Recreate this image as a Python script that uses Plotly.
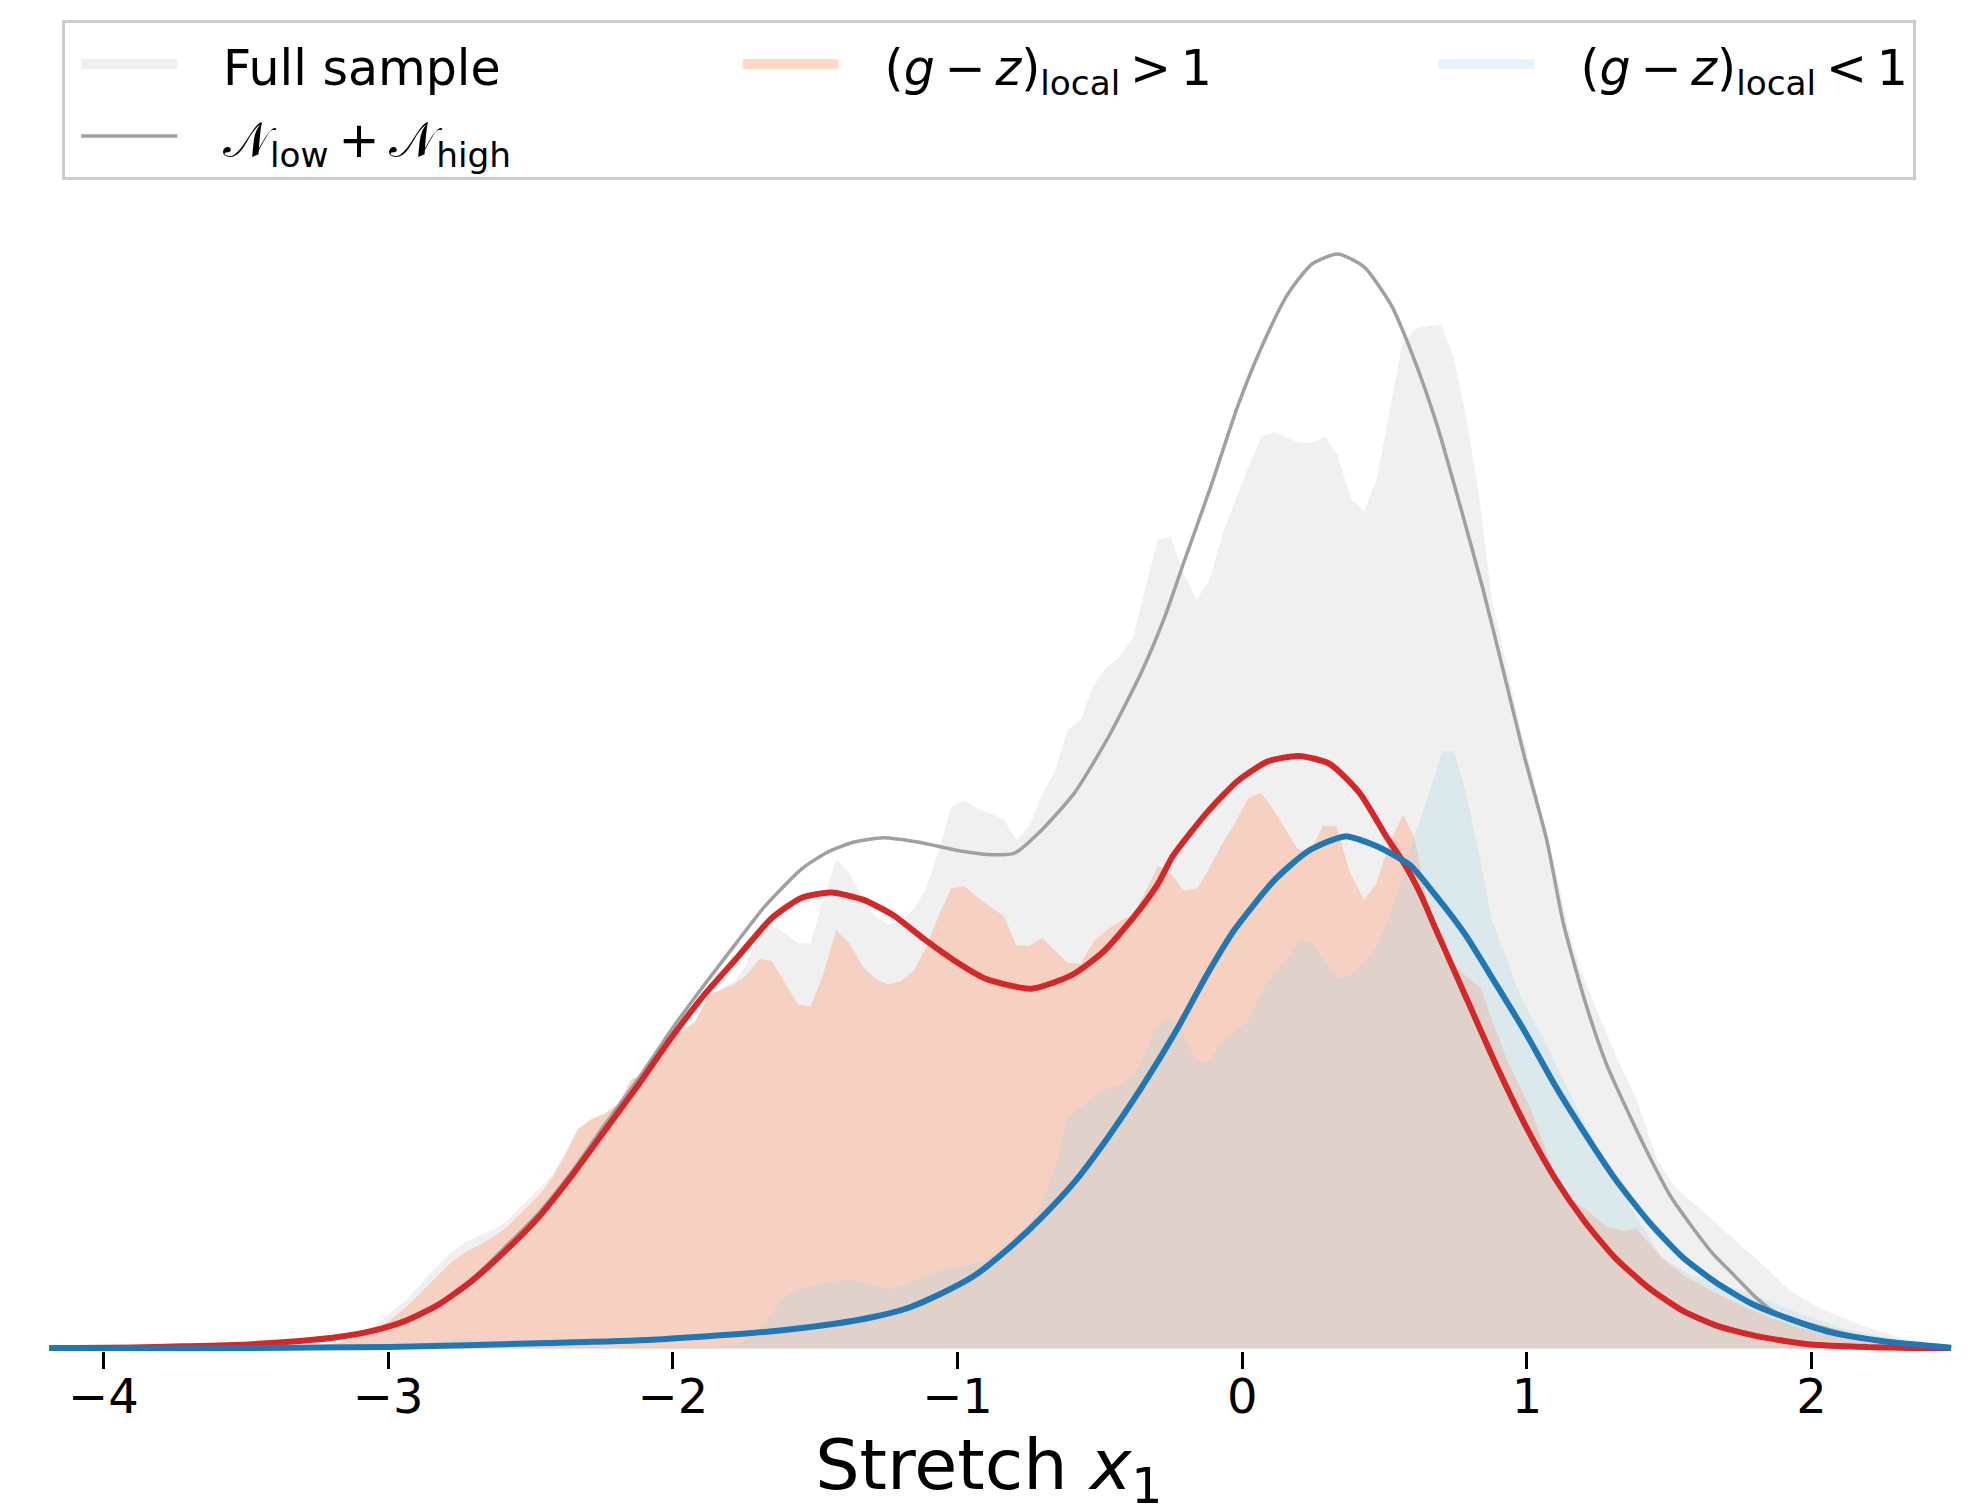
import plotly.graph_objects as go

# ---------------- data ----------------
# Filled distributions (histogram-like outlines)
full_x = [-3.30, -3.16, -3.06, -2.930, -2.860, -2.778, -2.731, -2.684, -2.626, -2.579, -2.520, -2.462,
          -2.421, -2.380, -2.333, -2.286, -2.239, -2.192, -2.146, -2.099, -2.052, -2.005, -1.970, -1.923,
          -1.876, -1.830, -1.783, -1.747, -1.701, -1.654, -1.619, -1.560, -1.516, -1.472, -1.426, -1.379,
          -1.332, -1.291, -1.244, -1.197, -1.154, -1.110, -1.063, -1.022, -0.975, -0.928, -0.881, -0.837,
          -0.793, -0.747, -0.702, -0.657, -0.612, -0.567, -0.524, -0.477, -0.430, -0.384, -0.341, -0.296,
          -0.252, -0.204, -0.160, -0.114, -0.067, 0.021, 0.067, 0.112, 0.157, 0.202, 0.246, 0.292, 0.336,
          0.382, 0.428, 0.473, 0.562, 0.609, 0.656, 0.698, 0.743, 0.788, 0.831, 0.878, 0.925, 0.970, 1.020,
          1.070, 1.114, 1.150, 1.189, 1.219, 1.324, 1.384, 1.458, 1.518, 1.608, 1.728, 1.817, 1.922, 2.027,
          2.177, 2.326, 2.490]
full_y = [0.0, 0.003, 0.0100, 0.0253, 0.0369, 0.0486, 0.0536, 0.0569, 0.0603, 0.0653, 0.0736, 0.0819,
          0.0886, 0.0986, 0.111, 0.116, 0.1186, 0.1236, 0.136, 0.140, 0.1478, 0.157, 0.161, 0.165,
          0.177, 0.182, 0.186, 0.193, 0.2086, 0.2136, 0.2115, 0.2048, 0.205, 0.227, 0.247, 0.2405,
          0.228, 0.219, 0.2144, 0.2163, 0.222, 0.2328, 0.253, 0.274, 0.277, 0.2729, 0.2703, 0.2675,
          0.2569, 0.2645, 0.280, 0.2924, 0.313, 0.318, 0.3348, 0.3444, 0.3498, 0.3589, 0.3839, 0.409,
          0.4105, 0.3917, 0.3788, 0.389, 0.4129, 0.4453, 0.4611, 0.4634, 0.4605, 0.458, 0.458, 0.461, 0.4515,
          0.4296, 0.4236, 0.4397, 0.5078, 0.516, 0.517, 0.518, 0.501, 0.470, 0.432, 0.378, 0.348, 0.318, 0.290,
          0.260, 0.2337, 0.210, 0.191, 0.180, 0.1444, 0.1265, 0.0953, 0.0819, 0.0707, 0.055, 0.0439, 0.0294, 0.0205,
          0.0115, 0.0049, 0.0005]

red_x = [-3.30, -3.16, -3.059, -3.000, -2.930, -2.860, -2.778, -2.731, -2.673, -2.626, -2.579, -2.520,
         -2.462, -2.421, -2.380, -2.333, -2.286, -2.239, -2.192, -2.146, -2.099, -2.052, -2.005, -1.970,
         -1.923, -1.873, -1.834, -1.789, -1.742, -1.695, -1.654, -1.619, -1.560, -1.516, -1.472, -1.426,
         -1.379, -1.332, -1.291, -1.244, -1.197, -1.154, -1.110, -1.063, -1.022, -0.975, -0.928, -0.881,
         -0.837, -0.794, -0.747, -0.702, -0.657, -0.612, -0.567, -0.522, -0.477, -0.430, -0.384, -0.340,
         -0.296, -0.249, -0.205, -0.158, -0.117, -0.073, -0.026, 0.020, 0.065, 0.108, 0.149, 0.194, 0.237,
         0.284, 0.331, 0.378, 0.428, 0.471, 0.518, 0.565, 0.606, 0.660, 0.700, 0.740, 0.790, 0.838, 0.875,
         0.935, 1.010, 1.069, 1.114, 1.160, 1.204, 1.279, 1.339, 1.384, 1.473, 1.550, 1.650, 1.750, 1.850,
         1.950, 2.050, 2.200, 2.350, 2.450]
red_y = [0.0, 0.0036, 0.0086, 0.0136, 0.0219, 0.0319, 0.0436, 0.0486, 0.0528, 0.0569, 0.0619, 0.0703,
         0.0786, 0.0869, 0.097, 0.111, 0.116, 0.119, 0.1236, 0.136, 0.139, 0.1478, 0.157, 0.160,
         0.165, 0.1795, 0.181, 0.184, 0.1886, 0.197, 0.196, 0.188, 0.174, 0.173, 0.189, 0.2115,
         0.2048, 0.193, 0.1874, 0.184, 0.186, 0.191, 0.203, 0.220, 0.2328, 0.2337, 0.228, 0.223,
         0.2187, 0.204, 0.2036, 0.2077, 0.201, 0.195, 0.1947, 0.206, 0.2115, 0.216, 0.2195, 0.231,
         0.2442, 0.240, 0.2315, 0.2326, 0.2426, 0.2545, 0.2656, 0.278, 0.2812, 0.2729, 0.2634, 0.2527, 0.2503,
         0.2645, 0.264, 0.2408, 0.227, 0.2349, 0.2562, 0.270, 0.258, 0.218, 0.200, 0.1934, 0.188, 0.1823, 0.1667,
         0.1444, 0.122, 0.0997, 0.0808, 0.075, 0.0707, 0.0618, 0.0595, 0.0607, 0.046, 0.037, 0.029, 0.022, 0.016,
         0.011, 0.007, 0.003, 0.001, 0.0]

blue_x = [-3.00, -2.918, -2.818, -2.757, -2.697, -2.636, -2.475, -2.273, -2.072, -1.870, -1.769, -1.709,
          -1.666, -1.613, -1.560, -1.514, -1.467, -1.420, -1.373, -1.326, -1.279, -1.233, -1.186, -1.139,
          -1.092, -1.045, -0.998, -0.952, -0.905, -0.858, -0.811, -0.764, -0.717, -0.682, -0.647, -0.612,
          -0.565, -0.518, -0.471, -0.425, -0.384, -0.343, -0.302, -0.255, -0.212, -0.164, -0.120, -0.073,
          -0.026, 0.020, 0.067, 0.114, 0.161, 0.202, 0.243, 0.290, 0.337, 0.378, 0.424, 0.471, 0.514, 0.559,
          0.606, 0.650, 0.703, 0.744, 0.785, 0.830, 0.878, 0.927, 0.972, 1.010, 1.054, 1.099, 1.144, 1.189,
          1.249, 1.309, 1.369, 1.473, 1.578, 1.683, 1.803, 1.952, 2.102, 2.326, 2.490]
blue_y = [0.0, 0.0011, 0.0039, 0.0048, 0.0041, 0.0028, 0.0016, 0.0006, 0.0003, 0.0006, 0.0028, 0.0071,
          0.0148, 0.0254, 0.030, 0.0312, 0.0331, 0.0344, 0.035, 0.0331, 0.0312, 0.030, 0.032, 0.035,
          0.038, 0.040, 0.0414, 0.0427, 0.0446, 0.0495, 0.055, 0.061, 0.0688, 0.0813, 0.0958, 0.1175,
          0.1224, 0.1278, 0.1315, 0.1337, 0.1378, 0.1485, 0.1627, 0.1675, 0.160, 0.146, 0.1445, 0.155,
          0.1605, 0.1655, 0.180, 0.190, 0.198, 0.206, 0.206, 0.1957, 0.187, 0.1888, 0.1945, 0.2032, 0.217, 0.236,
          0.2598, 0.278, 0.302, 0.302, 0.2817, 0.2515, 0.2158, 0.198, 0.180, 0.169, 0.1578, 0.1444, 0.131, 0.1176,
          0.102, 0.0886, 0.0707, 0.046, 0.037, 0.0328, 0.027, 0.018, 0.0105, 0.0037, 0.0004]

# Fitted curves
sum_x = [-4.19, -3.9, -3.726, -3.492, -3.30, -3.176, -3.059, -2.942, -2.825, -2.708, -2.591, -2.474,
         -2.357, -2.240, -2.123, -2.006, -1.889, -1.772, -1.677, -1.547, -1.457, -1.367, -1.260, -1.135,
         -0.990, -0.875, -0.800, -0.706, -0.589, -0.471, -0.354, -0.272, -0.204, -0.110, -0.016, 0.065,
         0.159, 0.246, 0.336, 0.428, 0.522, 0.602, 0.683, 0.764, 0.844, 0.915, 0.990, 1.070, 1.128, 1.204,
         1.279, 1.354, 1.429, 1.503, 1.578, 1.653, 1.728, 1.803, 1.877, 2.000, 2.150, 2.300, 2.490]
sum_y = [0.0003, 0.0006, 0.0013, 0.0024, 0.0043, 0.0063, 0.0094, 0.0145, 0.0228, 0.0348, 0.051, 0.068,
         0.089, 0.113, 0.136, 0.161, 0.184, 0.206, 0.2236, 0.2426, 0.251, 0.256, 0.2583, 0.256,
         0.2516, 0.2497, 0.2505, 0.262, 0.281, 0.309, 0.342, 0.370, 0.398, 0.436, 0.4765, 0.5055,
         0.533, 0.5486, 0.5535, 0.547, 0.528, 0.501, 0.4676, 0.427, 0.385, 0.344, 0.300, 0.257, 0.215, 0.1756,
         0.144, 0.120, 0.0975, 0.0774, 0.062, 0.048, 0.037, 0.026, 0.0175, 0.012, 0.0065, 0.003, 0.0006]

low_x = [-4.19, -3.9, -3.726, -3.492, -3.30, -3.176, -3.059, -2.942, -2.825, -2.708, -2.591, -2.474,
         -2.357, -2.240, -2.123, -2.006, -1.889, -1.772, -1.654, -1.547, -1.443, -1.332, -1.224, -1.117,
         -1.009, -0.901, -0.740, -0.597, -0.489, -0.382, -0.296, -0.244, -0.124, -0.016, 0.091, 0.199,
         0.307, 0.412, 0.510, 0.570, 0.629, 0.680, 0.785, 0.890, 0.994, 1.099, 1.204, 1.309, 1.429, 1.548,
         1.668, 1.817, 1.997, 2.200, 2.350, 2.490]
low_y = [0.0002, 0.0005, 0.0011, 0.0021, 0.0039, 0.0058, 0.0088, 0.0138, 0.0220, 0.0340, 0.049, 0.066,
         0.087, 0.110, 0.133, 0.157, 0.179, 0.198, 0.2175, 0.228, 0.2306, 0.227, 0.219, 0.207,
         0.196, 0.187, 0.182, 0.189, 0.2005, 0.218, 0.235, 0.249, 0.271, 0.287, 0.297, 0.2997,
         0.2957, 0.281, 0.258, 0.245, 0.229, 0.212, 0.178, 0.144, 0.113, 0.086, 0.064, 0.046, 0.0305, 0.019,
         0.0115, 0.006, 0.002, 0.0007, 0.0003, 0.0001]

high_x = [-4.19, -3.5, -3.0, -2.438, -2.072, -1.669, -1.432, -1.300, -1.174, -1.057, -0.940, -0.823,
          -0.706, -0.588, -0.471, -0.354, -0.237, -0.120, -0.026, 0.114, 0.231, 0.360, 0.473, 0.590,
          0.680, 0.785, 0.890, 0.994, 1.099, 1.204, 1.309, 1.429, 1.548, 1.668, 1.788, 1.922, 2.072, 2.252,
          2.490]
high_y = [0.0001, 0.0003, 0.0008, 0.0028, 0.0045, 0.0085, 0.0125, 0.0158, 0.0205, 0.0278, 0.0369, 0.0503,
          0.0661, 0.0844, 0.1069, 0.1319, 0.1594, 0.1900, 0.212, 0.237, 0.2515, 0.259, 0.254, 0.2444,
          0.229, 0.209, 0.1846, 0.160, 0.133, 0.1087, 0.086, 0.064, 0.046, 0.033, 0.0228, 0.015, 0.008, 0.0037,
          0.0004]

x_ticks = [-4, -3, -2, -1, 0, 1, 2]
x_range = [-4.1946, 2.4931]

# legend labels
NB = "\u00a0"
TS = "\u2009"
ZW = "\u200b"
lead = NB * 2 + TS


def sized(txt):
    return '<span style="font-size:49px">' + txt + "</span>"


lab_full = sized(lead + "Full sample" + NB * 14)
lab_sum = sized(lead + "𝒩<sub>low</sub>" + TS + "+" + TS + "𝒩<sub>high</sub>")
lab_red = sized(lead + "(<i>g</i>" + TS + "−" + TS + "<i>z</i>)<sub>local</sub>" + TS + ">" + TS + "1" + NB * 13)
lab_blue = sized(lead + "(<i>g</i>" + TS + "−" + TS + "<i>z</i>)<sub>local</sub>" + TS + "<" + TS + "1")

FONT = "DejaVu Sans"
C_GREY_F = "rgba(128,128,128,0.12)"
C_RED_F = "rgba(255,160,122,0.4)"
C_BLUE_F = "rgba(173,216,230,0.3)"

fig = go.Figure()

# legend patches
fig.add_trace(go.Scatter(x=[None], y=[None], mode="lines", line=dict(width=35, color=C_GREY_F),
                         name=lab_full, legendgroup="c1"))
fig.add_trace(go.Scatter(x=[None], y=[None], mode="lines", line=dict(width=35, color=C_RED_F),
                         name=lab_red, legendgroup="c2"))
fig.add_trace(go.Scatter(x=[None], y=[None], mode="lines", line=dict(width=35, color=C_BLUE_F),
                         name=lab_blue, legendgroup="c3"))

# filled distributions
fig.add_trace(go.Scatter(x=full_x, y=full_y, mode="lines", fill="tozeroy", fillcolor=C_GREY_F,
                         line=dict(width=0, color=C_GREY_F), showlegend=False, legendgroup="c1"))
fig.add_trace(go.Scatter(x=red_x, y=red_y, mode="lines", fill="tozeroy", fillcolor=C_RED_F,
                         line=dict(width=0, color=C_RED_F), showlegend=False, legendgroup="c2"))
fig.add_trace(go.Scatter(x=blue_x, y=blue_y, mode="lines", fill="tozeroy", fillcolor=C_BLUE_F,
                         line=dict(width=0, color=C_BLUE_F), showlegend=False, legendgroup="c3"))

# fitted curves
fig.add_trace(go.Scatter(x=sum_x, y=sum_y, mode="lines",
                         line=dict(color="#a0a0a0", width=3.5, shape="spline", smoothing=0.6),
                         name=lab_sum, legendgroup="c1"))
fig.add_trace(go.Scatter(x=low_x, y=low_y, mode="lines",
                         line=dict(color="#d62728", width=6, shape="spline", smoothing=0.6),
                         showlegend=False))
fig.add_trace(go.Scatter(x=high_x, y=high_y, mode="lines",
                         line=dict(color="#1f77b4", width=6, shape="spline", smoothing=0.6),
                         showlegend=False))

fig.update_layout(
    width=1968, height=1510,
    margin=dict(l=40, r=24, t=15, b=167),
    paper_bgcolor="white", plot_bgcolor="white",
    font=dict(family=FONT, size=48, color="black"),
    showlegend=True,
    legend=dict(orientation="h", x=0.0074, y=1.0136, xanchor="left", yanchor="top",
                bgcolor="rgba(255,255,255,0.8)", bordercolor="#cccccc", borderwidth=3,
                font=dict(family=FONT, size=53, color="black"), indentation=14,
                itemwidth=96, traceorder="grouped", tracegroupgap=0),
    xaxis=dict(range=x_range, tickvals=x_ticks, ticks="outside", ticklen=17, tickwidth=2.5,
               tickcolor="black", showgrid=False, zeroline=False, showline=False,
               ticklabelstandoff=-14,
               tickfont=dict(family=FONT, size=48, color="black"),
               title=dict(text="Stretch <i>x</i><sub>1</sub>" + NB + ZW,
                          font=dict(family=FONT, size=70, color="black"), standoff=8)),
    yaxis=dict(range=[-0.00125, 0.66275], visible=False, showgrid=False, zeroline=False),
)

fig.write_html("out.html")
